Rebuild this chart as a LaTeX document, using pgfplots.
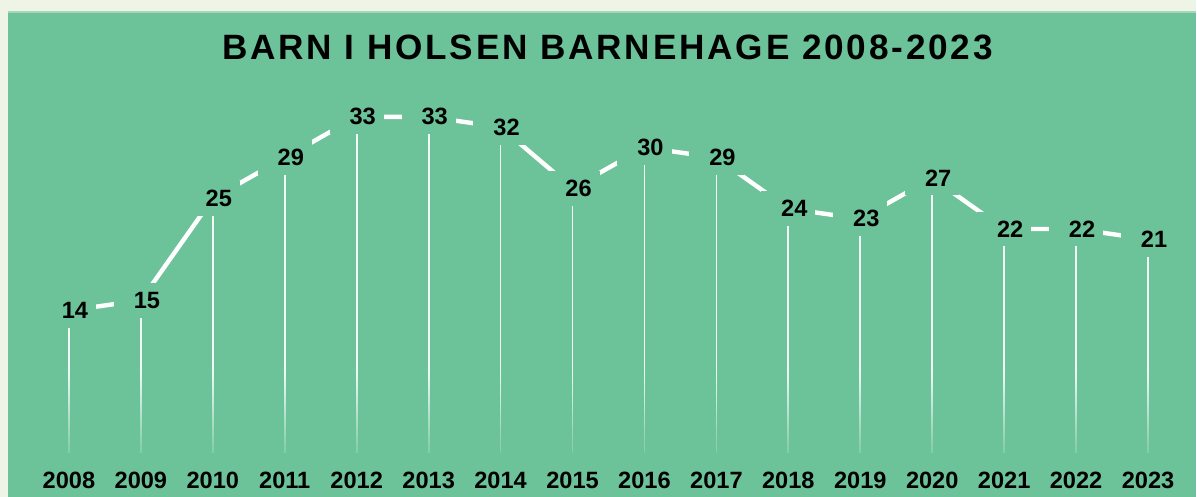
\documentclass[border=0pt]{standalone}
\usepackage{fontspec}
\setmainfont{Liberation Sans}
\usepackage{pgfplots}
\usepackage{pgfplotstable}
\pgfplotsset{compat=1.18}
\usetikzlibrary{fadings}
\definecolor{panel}{RGB}{109,195,153}
\definecolor{pagebg}{RGB}{238,244,230}
\definecolor{edge}{RGB}{168,214,186}
\pgfplotstableread{
x y
0 14
1 15
2 25
3 29
4 33
5 33
6 32
7 26
8 30
9 29
10 24
11 23
12 27
13 22
14 22
15 21
}\datatable
\begin{document}
\begin{tikzpicture}
\fill[pagebg] (0,0) rectangle (598.5pt,248.5pt);
\fill[panel] (4pt,0) rectangle (598.5pt,243pt);
\draw[edge, line width=1pt] (4pt,242.5pt) -- (598.5pt,242.5pt);
\node[font=\fontsize{17.6pt}{20pt}\selectfont\bfseries\addfontfeatures{LetterSpace=8}, anchor=base, inner sep=0pt] at (304pt,218.5pt) {BARN I HOLSEN BARNEHAGE 2008-2023};
\begin{axis}[
  at={(34.5pt,21.7pt)}, anchor=south west,
  scale only axis, width=540pt, height=168.3pt,
  xmin=0, xmax=15, ymin=0, ymax=33,
  clip=false,
  axis line style={draw=none}, tick style={draw=none},
  ytick=\empty,
  xtick={0,...,15},
  xticklabels={2008,2009,2010,2011,2012,2013,2014,2015,2016,2017,2018,2019,2020,2021,2022,2023},
  xticklabel style={anchor=base, yshift=-17.7pt, inner sep=0pt, font=\fontsize{11.8pt}{14pt}\selectfont\bfseries},
  /pgf/number format/assume math mode=true,
]
\addplot[ycomb, white, line width=0.9pt, opacity=0.9] table[x=x,y=y]{\datatable};
\fill[panel, path fading=north] (axis cs:-0.5,-1.5) rectangle (axis cs:15.5,8);
\addplot[white, line width=2.2pt, mark=none,
  nodes near coords={\kern6pt\pgfmathprintnumber{\pgfplotspointmeta}},
  every node near coord/.append style={anchor=center, fill=panel, text=black, inner xsep=4pt, inner ysep=4.6pt, font=\fontsize{11.8pt}{13pt}\selectfont\bfseries}]
  table[x=x,y=y]{\datatable};
\end{axis}
\end{tikzpicture}
\end{document}
